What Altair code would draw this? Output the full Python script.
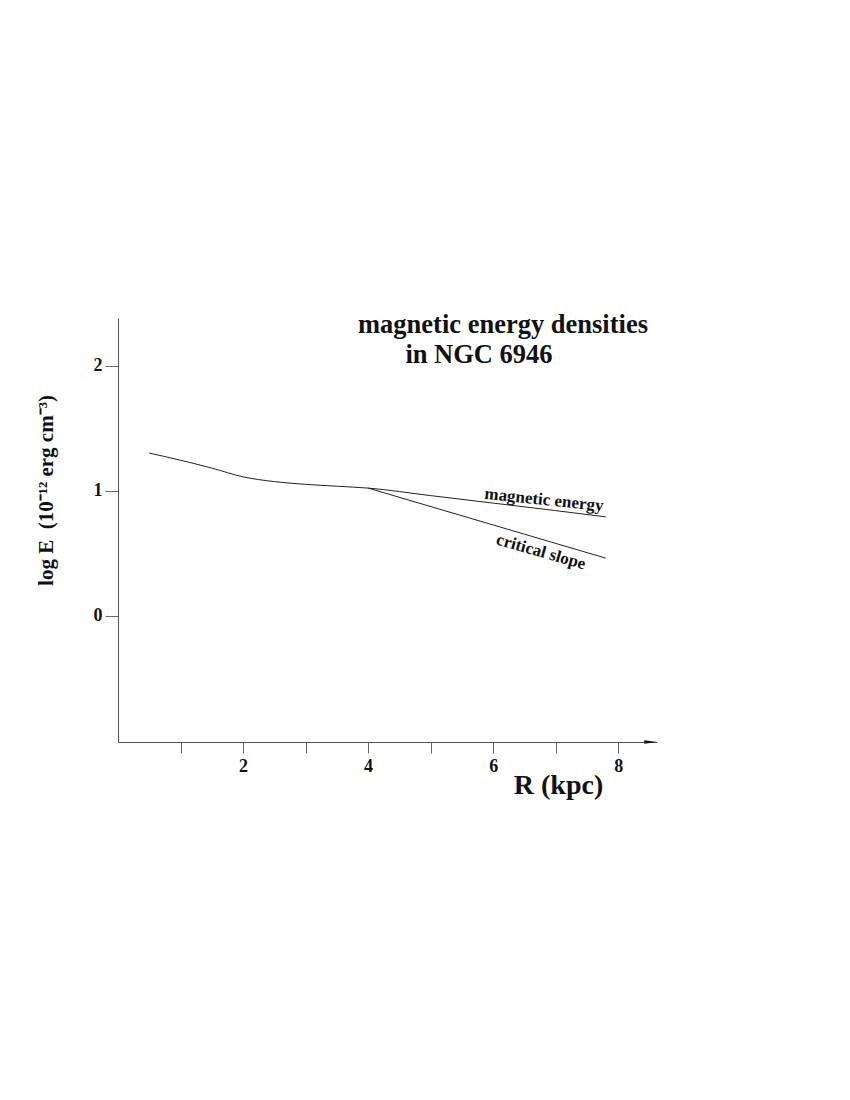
import altair as alt
import pandas as pd

# ---- data ----
r_shared = [0.5, 1.0, 1.5, 2.0, 2.5, 3.0, 3.5, 4.0]
e_shared = [1.30, 1.243, 1.18, 1.11, 1.072, 1.05, 1.035, 1.02]
r_magnetic = [4.0, 5.0, 6.0, 7.0, 7.8]
e_magnetic = [1.02, 0.96, 0.90, 0.84, 0.79]
r_critical = [4.0, 7.8]
e_critical = [1.02, 0.46]

x_ticks = [1, 2, 3, 4, 5, 6, 7, 8]
y_ticks = [0, 1, 2]
X_DOMAIN = [0, 8.62]
Y_DOMAIN = [-1.01, 2.38]

rows = []
for r, e in zip(r_shared + r_magnetic[1:], e_shared + e_magnetic[1:]):
    rows.append({"R": r, "E": e, "series": "magnetic energy"})
for r, e in zip(r_critical, e_critical):
    rows.append({"R": r, "E": e, "series": "critical slope"})
df = pd.DataFrame(rows)

FONT = "Liberation Serif"
W, H = 539, 424

xscale = alt.Scale(domain=X_DOMAIN, nice=False, zero=False)
yscale = alt.Scale(domain=Y_DOMAIN, nice=False, zero=False)

x_axis = alt.Axis(
    values=x_ticks, format="d",
    labelExpr="datum.value % 2 == 0 ? datum.label : ''",
    grid=False, tickSize=11, tickColor="#666", domainColor="#555",
    labelFont=FONT, labelFontWeight="bold", labelFontSize=18, labelColor="#111",
    labelPadding=4, title="R (kpc)", titleFont=FONT, titleFontSize=28,
    titleFontWeight="bold", titleColor="#111", titleX=440, titleY=51,
    titleAlign="center", titleBaseline="alphabetic",
)
y_axis = alt.Axis(
    values=y_ticks, format="d", grid=False, tickSize=13, tickColor="#666",
    domainColor="#555",
    labelFont=FONT, labelFontWeight="bold", labelFontSize=18, labelColor="#111",
    labelPadding=3,
    title="log E\u00a0\u00a0(10\u207b\u00b9\u00b2 erg cm\u207b\u00b3)",
    titleFont=FONT, titleFontSize=21, titleFontWeight="bold", titleColor="#111",
    titleAngle=270, titleX=-72, titleY=172, titleAlign="center",
    titleBaseline="middle",
)

lines = alt.Chart(df).mark_line(
    color="#222", strokeWidth=1, interpolate="monotone"
).encode(
    x=alt.X("R:Q", scale=xscale, axis=x_axis),
    y=alt.Y("E:Q", scale=yscale, axis=y_axis),
    detail="series:N",
    order=alt.Order("R:Q"),
)

arrow_df = pd.DataFrame({"R": [X_DOMAIN[1] - 0.1], "E": [Y_DOMAIN[0]]})
arrow = alt.Chart(arrow_df).mark_point(
    shape="M-1,-0.28L1,0L-1,0.28Z", filled=True, color="#111", opacity=1, size=169
).encode(x=alt.X("R:Q", scale=xscale), y=alt.Y("E:Q", scale=yscale))

one = pd.DataFrame({"a": [0]})

def label(text, x, y, size, angle=0, baseline="middle"):
    return alt.Chart(one).mark_text(
        text=text, font=FONT, fontSize=size, fontWeight="bold", color="#111",
        angle=angle, align="center", baseline=baseline,
    ).encode(x=alt.value(x), y=alt.value(y))

t1 = label("magnetic energy densities", 385, 15, 26.5, baseline="alphabetic")
t2 = label("in NGC 6946", 361, 45, 26.5, baseline="alphabetic")
l1 = label("magnetic energy", 426, 182, 17, angle=6)
l2 = label("critical slope", 423, 234, 17, angle=16)

chart = alt.layer(lines, arrow, t1, t2, l1, l2).properties(
    width=W, height=H,
    autosize=alt.AutoSizeParams(type="none"),
    padding={"left": 110, "top": 310, "right": 100, "bottom": 100},
).configure_view(stroke=None)

chart.save("out.html", embed_options={"renderer": "svg", "actions": False})
